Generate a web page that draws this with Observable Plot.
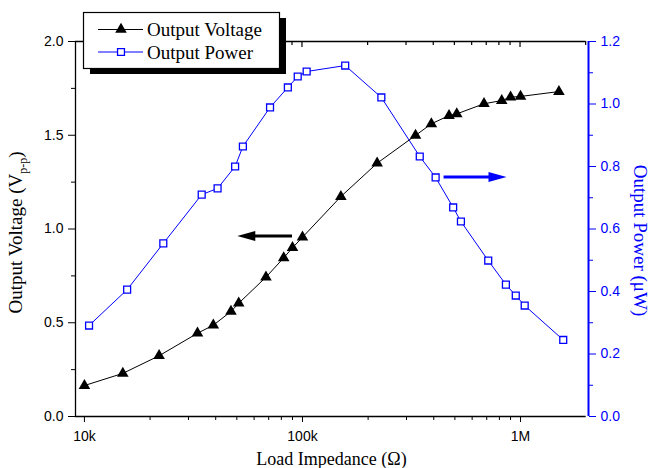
<!DOCTYPE html>
<html><head><meta charset="utf-8">
<script src="https://cdn.jsdelivr.net/npm/d3@7"></script>
<script src="https://cdn.jsdelivr.net/npm/@observablehq/plot@0.6"></script>
<style>
body{margin:0;background:#fff;}
#chart{width:650px;height:468px;}
</style></head><body><div id="chart"></div>
<script>
// Load impedance (ohm) for the voltage series
const loadV = [10e3, 15e3, 22e3, 33e3, 39e3, 47e3, 51e3, 68e3, 82e3, 90e3, 100e3, 150e3, 220e3, 330e3, 390e3, 470e3, 510e3, 680e3, 820e3, 900e3, 1e6, 1.5e6];
// Output voltage (Vp-p)
const voltage = [0.165, 0.23, 0.324, 0.444, 0.487, 0.56, 0.604, 0.743, 0.846, 0.90, 0.956, 1.173, 1.351, 1.499, 1.561, 1.605, 1.614, 1.668, 1.685, 1.703, 1.707, 1.733];
// Load impedance (ohm) for the power series (as drawn)
const loadP = [10.5e3, 15.7e3, 23e3, 34.5e3, 40.8e3, 49.1e3, 53.3e3, 71e3, 85.7e3, 95.1e3, 104.5e3, 157e3, 230e3, 345e3, 408e3, 491e3, 533e3, 711e3, 857e3, 951e3, 1.045e6, 1.57e6];
// Output power (uW)
const power = [0.291, 0.406, 0.554, 0.710, 0.730, 0.800, 0.864, 0.989, 1.053, 1.088, 1.104, 1.123, 1.021, 0.832, 0.765, 0.669, 0.624, 0.499, 0.422, 0.387, 0.355, 0.245];

const xTicks = [1e4, 1e5, 1e6];
const xTickLabels = ["10k", "100k", "1M"];
const xMinor = [2e4, 3e4, 4e4, 5e4, 6e4, 7e4, 8e4, 9e4, 2e5, 3e5, 4e5, 5e5, 6e5, 7e5, 8e5, 9e5];
const xTopMinor = [2e4, 3e4, 4e4, 5e4, 6e4, 7e4, 8e4, 9e4, 2e5, 3e5, 4e5, 5e5, 6e5, 7e5, 8e5, 9e5, 2e6];
const vTicks = [0, 0.5, 1.0, 1.5, 2.0];
const vMinor = [0.25, 0.75, 1.25, 1.75];
const pTicks = [0, 0.2, 0.4, 0.6, 0.8, 1.0, 1.2];
const pMinor = [0.1, 0.3, 0.5, 0.7, 0.9, 1.1];
const xDomain = [9100, 2.05e6];
const vMax = 2.0, pMax = 1.2;
const P2V = vMax / pMax;

const seriesNames = ["Output Voltage", "Output Power"];
const xTitle = "Load Impedance (\u03A9)";
const arrowsV = {tail: 90e3, tip: 50.5e3, level: 0.96};
const arrowsP = {tail: 446e3, tip: 867e3, level: 0.765};

const BLUE = "#0000ff";
const vData = loadV.map((x, i) => ({x, y: voltage[i]}));
const pData = loadP.map((x, i) => ({x, y: power[i] * P2V}));

const plot = Plot.plot({
  width: 650, height: 468,
  marginLeft: 75, marginRight: 62, marginTop: 41, marginBottom: 52,
  style: {fontFamily: "'Liberation Sans', Arial, sans-serif", fontSize: "14px", background: "white"},
  x: {type: "log", domain: xDomain, axis: null},
  y: {domain: [0, vMax], axis: null},
  marks: [
    Plot.ruleY([0], {x1: xDomain[0], x2: 2.0e6, stroke: "black", strokeWidth: 1.3}),
    Plot.ruleY([vMax], {x1: xDomain[0], x2: 2.0e6, stroke: "black", strokeWidth: 1.3}),
    Plot.ruleX([xDomain[0]], {stroke: "black", strokeWidth: 1.3}),
    Plot.ruleX([xDomain[1]], {stroke: BLUE, strokeWidth: 2}),
    Plot.axisX(xTicks, {anchor: "bottom", tickSize: 6, tickPadding: 9, tickFormat: d => xTickLabels[xTicks.indexOf(d)], label: null, color: "black", fontSize: 14}),
    Plot.axisX(xMinor, {anchor: "bottom", tickSize: 4, tickFormat: () => "", label: null, color: "black"}),
    Plot.axisY(vTicks, {anchor: "left", tickSize: 7, tickPadding: 5, tickFormat: d => d.toFixed(1), label: null, color: "black", fontSize: 14}),
    Plot.axisY(vMinor, {anchor: "left", tickSize: 4, tickFormat: () => "", label: null, color: "black"}),
    Plot.axisY(pTicks.map(p => p * P2V), {anchor: "right", tickSize: 7, tickPadding: 5, tickFormat: d => (d / P2V).toFixed(1), label: null, color: BLUE, fontSize: 14}),
    Plot.axisY(pMinor.map(p => p * P2V), {anchor: "right", tickSize: 4, tickFormat: () => "", label: null, color: BLUE}),
    Plot.line(pData, {x: "x", y: "y", stroke: BLUE, strokeWidth: 1}),
    Plot.dot(pData, {x: "x", y: "y", symbol: "square", r: 3.9, fill: "white", stroke: BLUE, strokeWidth: 1.3}),
    Plot.line(vData, {x: "x", y: "y", stroke: "black", strokeWidth: 1}),
    Plot.dot(vData, {x: "x", y: "y", symbol: "triangle", r: 4.3, fill: "black", stroke: "none"})
  ]
});

document.getElementById("chart").appendChild(plot);

const X = plot.scale("x").apply, Y = plot.scale("y").apply;
const svg = d3.select(plot);
const g = svg.append("g");

// top frame ticks (inward)
for (const t of xTicks) g.append("line").attr("x1", X(t)).attr("x2", X(t)).attr("y1", Y(vMax)).attr("y2", Y(vMax) + 6).attr("stroke", "black").attr("stroke-width", 1.2);
for (const t of xTopMinor) g.append("line").attr("x1", X(t)).attr("x2", X(t)).attr("y1", Y(vMax)).attr("y2", Y(vMax) + 4).attr("stroke", "black").attr("stroke-width", 1.2);

// arrows
function arrow(a, color) {
  const x0 = X(a.tail), x1 = X(a.tip), yy = Y(a.level);
  const dir = Math.sign(x1 - x0), hl = 18, hh = 5;
  g.append("line").attr("x1", x0).attr("x2", x1 - dir * (hl - 2)).attr("y1", yy).attr("y2", yy).attr("stroke", color).attr("stroke-width", 3);
  g.append("path").attr("d", `M${x1},${yy}L${x1 - dir * hl},${yy - hh}L${x1 - dir * hl},${yy + hh}Z`).attr("fill", color);
}
arrow(arrowsV, "black");
arrow({tail: arrowsP.tail, tip: arrowsP.tip, level: arrowsP.level * P2V}, BLUE);

// axis titles
const serif = "'Liberation Serif', 'Times New Roman', serif";
g.append("text").attr("x", (X(xDomain[0]) + X(xDomain[1])) / 2).attr("y", 465)
  .attr("text-anchor", "middle").attr("font-family", serif).attr("font-size", 18).attr("fill", "black").text(xTitle);
const lt = g.append("text").attr("transform", `translate(22,${(Y(0) + Y(vMax)) / 2 + 4}) rotate(-90)`)
  .attr("text-anchor", "middle").attr("font-family", serif).attr("font-size", 19).attr("fill", "black");
lt.append("tspan").text("Output Voltage (V");
lt.append("tspan").attr("dy", 5).attr("font-size", 12).text("p-p");
lt.append("tspan").attr("dy", -5).text(")");
g.append("text").attr("transform", `translate(634,${(Y(0) + Y(vMax)) / 2 + 12}) rotate(90)`)
  .attr("text-anchor", "middle").attr("font-family", serif).attr("font-size", 19).attr("fill", BLUE).text("Output Power (\u03BCW)");

// legend
const lg = svg.append("g");
lg.append("rect").attr("x", 90).attr("y", 18).attr("width", 196).attr("height", 56).attr("fill", "black");
lg.append("rect").attr("x", 83.5).attr("y", 12.5).attr("width", 196).attr("height", 56).attr("fill", "white").attr("stroke", "black").attr("stroke-width", 1.2);
const rows = [{y: 29.5, color: "black", sym: d3.symbolTriangle, r: 4.3, fill: "black", stroke: "none"},
              {y: 52, color: BLUE, sym: d3.symbolSquare, r: 3.9, fill: "white", stroke: BLUE}];
rows.forEach((row, i) => {
  lg.append("line").attr("x1", 98).attr("x2", 143).attr("y1", row.y).attr("y2", row.y).attr("stroke", row.color).attr("stroke-width", 1.2);
  lg.append("path").attr("transform", `translate(121,${row.y})`).attr("d", d3.symbol(row.sym, Math.PI * row.r * row.r)())
    .attr("fill", row.fill).attr("stroke", row.stroke).attr("stroke-width", 1.3);
  lg.append("text").attr("x", 147).attr("y", row.y + 6.5).attr("text-anchor", "start").attr("font-family", serif).attr("font-size", 19).attr("fill", "black").text(seriesNames[i]);
});
</script></body></html>
